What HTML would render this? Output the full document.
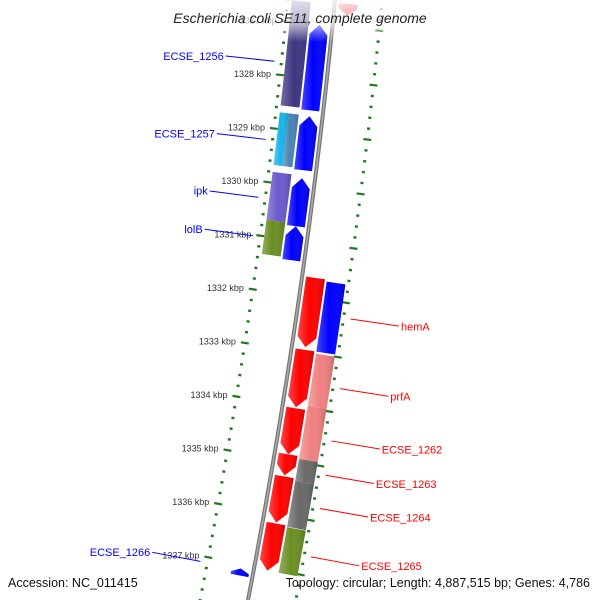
<!DOCTYPE html>
<html><head><meta charset="utf-8">
<style>
html,body{margin:0;padding:0;background:#fff;width:600px;height:600px;overflow:hidden;}
svg{display:block;font-family:"Liberation Sans",sans-serif;overflow:hidden;}
</style></head>
<body>
<svg id="chart" width="600" height="600" viewBox="0 0 600 600" xmlns="http://www.w3.org/2000/svg">
<defs>
<linearGradient id="shade" x1="0" y1="0" x2="1" y2="0">
<stop offset="0" stop-color="#fff" stop-opacity="0.28"/>
<stop offset="0.45" stop-color="#fff" stop-opacity="0"/>
<stop offset="1" stop-color="#000" stop-opacity="0.18"/>
</linearGradient>
<linearGradient id="fade" x1="0" y1="0" x2="0" y2="1">
<stop offset="0" stop-color="#fff" stop-opacity="0.85"/>
<stop offset="0.6" stop-color="#fff" stop-opacity="0.6"/>
<stop offset="1" stop-color="#fff" stop-opacity="0"/>
</linearGradient>
</defs>
<g id="rulers"></g>
<g id="features"></g>
<path id="backbone" fill="none" stroke="#777" stroke-width="4"/>
<path id="backbone2" fill="none" stroke="#aaa" stroke-width="1.5"/>
<g id="labels"></g>
<rect x="0" y="0" width="600" height="42" fill="url(#fade)"/>
<text x="300" y="23" text-anchor="middle" font-size="14" font-style="italic" fill="#222">Escherichia coli SE11, complete genome</text>
<text x="8" y="587" font-size="12.5" fill="#111">Accession: NC_011415</text>
<text x="590" y="587" text-anchor="end" font-size="12.5" fill="#111">Topology: circular; Length: 4,887,515 bp; Genes: 4,786</text>
</svg>
<script>
// ---- data ----
const tickKbp = [1326, 1327, 1328, 1329, 1330, 1331, 1332, 1333, 1334, 1335, 1336, 1337, 1338];
const tickLabels = ["1326 kbp","1327 kbp","1328 kbp","1329 kbp","1330 kbp","1331 kbp","1332 kbp","1333 kbp","1334 kbp","1335 kbp","1336 kbp","1337 kbp","1338 kbp"];
const featStart = [1326.60, 1328.69, 1328.69, 1329.80, 1330.69, 1327.00, 1328.70, 1329.85, 1330.74, 1337.09, 1326.57, 1331.63, 1332.96, 1334.04, 1334.89, 1335.30, 1336.17, 1331.67, 1333.00, 1333.96, 1334.94, 1335.35, 1336.20];
const featEnd   = [1328.56, 1329.67, 1329.67, 1330.69, 1331.33, 1328.59, 1329.70, 1330.74, 1331.37, 1337.22, 1326.78, 1332.91, 1334.02, 1334.89, 1335.28, 1336.15, 1337.04, 1332.96, 1333.96, 1334.94, 1335.35, 1336.19, 1337.04];
const featTrack = ["LO","LOa","LOb","LO","LO","LI","LI","LI","LI","LI","RI","RI","RI","RI","RI","RI","RI","RO","RO","RO","RO","RO","RO"];
const featArrow = [0,0,0,0,0,-1,-1,-1,-1,-1,1,1,1,1,1,1,1,0,0,0,0,0,0];
const featColor = ["#3d3580","#1ab4ec","#4a84b4","#6a5acd","#6b8e23","#0000ff","#0000ff","#0000ff","#0000ff","#0000ff","#ff0000","#ff0000","#ff0000","#ff0000","#ff0000","#ff0000","#ff0000","#0000ff","#f08080","#f08080","#696969","#696969","#6b8e23"];
const labelNames = ["ECSE_1256","ECSE_1257","ipk","lolB","ECSE_1266","hemA","prfA","ECSE_1262","ECSE_1263","ECSE_1264","ECSE_1265"];
const labelKbp   = [1327.76, 1329.22, 1330.30, 1331.02, 1337.10, 1332.28, 1333.56, 1334.52, 1335.15, 1335.76, 1336.65];
const labelSide  = [-1,-1,-1,-1,-1,1,1,1,1,1,1];

// ---- geometry ----
const NS = "http://www.w3.org/2000/svg";
const A = -0.0968, B = -8.03e-5, X0 = 335;
function xb(t){ return X0 + A*t + B*t*t; }
function tOf(k){ return 80 + 54*(k - 1328); }
function pt(t, d){
  const s = A + 2*B*t, n = Math.sqrt(1 + s*s);
  return [xb(t) + d/n, t - s*d/n];
}
const tracks = {LO:[-43,-24], LOa:[-43,-34], LOb:[-34,-24], LI:[-22,-4], RI:[4,23], RO:[25,44]};
function mk(tag, attrs, parent){
  const e = document.createElementNS(NS, tag);
  for (const k in attrs) e.setAttribute(k, attrs[k]);
  parent.appendChild(e); return e;
}
let bp = "";
for (let t = -20; t <= 610; t += 10){ const p = pt(t,0); bp += (bp ? "L" : "M") + p[0].toFixed(2) + "," + p[1].toFixed(2); }
document.getElementById("backbone").setAttribute("d", bp);
document.getElementById("backbone2").setAttribute("d", bp);

const rg = document.getElementById("rulers");
for (let i = 0; i <= 62; i++){
  const k = 1326 + i*0.2;
  const t = tOf(k);
  const major = Math.abs(k - Math.round(k)) < 1e-6;
  [-1, 1].forEach(side => {
    const d0 = side*47;
    const len = major ? 8 : 3;
    const a = pt(t, d0 - len/2), b = pt(t, d0 + len/2);
    const ln = mk("line", {x1:a[0], y1:a[1], x2:b[0], y2:b[1], stroke:"#1f7a1f", "stroke-width": major ? 2.2 : 2.4}, rg);
    
    
  });
}
tickKbp.forEach((k, i) => {
  const p = pt(tOf(k), -56);
  const tx = mk("text", {x:p[0], y:p[1]+3, "text-anchor":"end", "font-size":"9", fill:"#333"}, rg);
  tx.textContent = tickLabels[i];
  
  
});

const fg = document.getElementById("features");
featStart.forEach((k1, i) => {
  const k2 = featEnd[i];
  const [d1, d2] = tracks[featTrack[i]];
  let t1 = tOf(k1), t2 = tOf(k2);
  const head = Math.min(10, (t2 - t1)*0.6);
  const dir = featArrow[i];
  const left = [], right = [];
  let bs = t1, be = t2;
  if (dir === -1) bs = t1 + head;
  if (dir === 1) be = t2 - head;
  const steps = 6;
  for (let s = 0; s <= steps; s++){
    const t = bs + (be - bs)*s/steps;
    left.push(pt(t, d1)); right.push(pt(t, d2));
  }
  let pts = [];
  if (dir === -1) pts.push(pt(t1, (d1+d2)/2));
  pts = pts.concat(left);
  if (dir === 1) pts.push(pt(t2, (d1+d2)/2));
  pts = pts.concat(right.reverse());
  const str = pts.map(p => p[0].toFixed(2)+","+p[1].toFixed(2)).join(" ");
  const poly = mk("polygon", {points:str, fill:featColor[i]}, fg);
  
  
  const ov = mk("polygon", {points:str, fill:"url(#shade)"}, fg);
  
  
});

const lg = document.getElementById("labels");
labelNames.forEach((name, i) => {
  const t = tOf(labelKbp[i]);
  const side = labelSide[i];
  const col = side < 0 ? "#0000ff" : "#ff0000";
  const a = pt(t, side*54), b = pt(t, side*103);
  const ln = mk("line", {x1:a[0], y1:a[1], x2:b[0], y2:b[1], stroke:col, "stroke-width":1}, lg);
  
  
  const p = pt(t, side*105);
  const tx = mk("text", {x:p[0], y:p[1]+4, "text-anchor": side < 0 ? "end" : "start", "font-size":"11", fill:col}, lg);
  tx.textContent = name;
  
  
});
</script>
</body></html>
